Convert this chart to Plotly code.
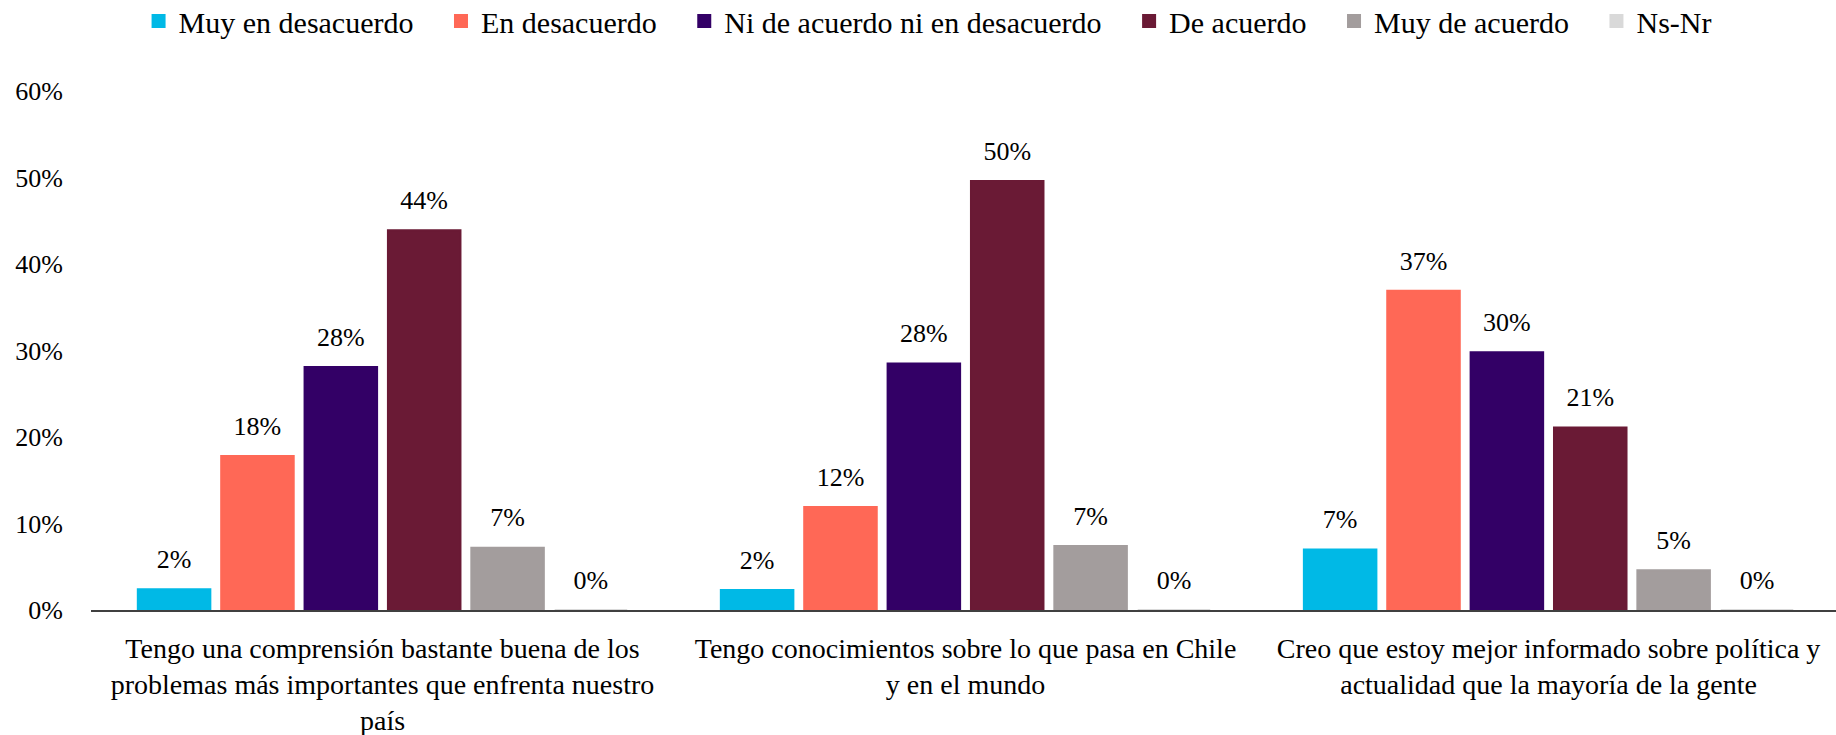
import plotly.graph_objects as go

# Categories (x axis) and answer options (series)
categories = [
    "Tengo una comprensión bastante buena de los<br>problemas más importantes que enfrenta nuestro<br>país",
    "Tengo conocimientos sobre lo que pasa en Chile<br>y en el mundo",
    "Creo que estoy mejor informado sobre política y<br>actualidad que la mayoría de la gente",
]
series_names = ["Muy en desacuerdo", "En desacuerdo", "Ni de acuerdo ni en desacuerdo",
                "De acuerdo", "Muy de acuerdo", "Ns-Nr"]
series_colors = ["#00B9E6", "#FF6856", "#330066", "#6A1A35", "#A39D9D", "#D9D9D9"]

# Values (share of respondents), one list per answer option
muy_en_desacuerdo = [0.024, 0.023, 0.070]
en_desacuerdo = [0.178, 0.119, 0.369]
ni_ni = [0.281, 0.285, 0.298]
de_acuerdo = [0.439, 0.496, 0.211]
muy_de_acuerdo = [0.072, 0.074, 0.046]
ns_nr = [0.0, 0.0, 0.0]

series_values = [muy_en_desacuerdo, en_desacuerdo, ni_ni, de_acuerdo, muy_de_acuerdo, ns_nr]

y_ticks = [0, 0.1, 0.2, 0.3, 0.4, 0.5, 0.6]

font_family = "Liberation Serif"
num_size = 26     # tick labels and value labels
cat_size = 28     # category labels
leg_size = 30     # legend
pad = "\u00a0\u00a0\u00a0"  # extra room between legend entries
gap = 0.142

fig = go.Figure()

for i, (name, color, vals) in enumerate(zip(series_names, series_colors, series_values)):
    fig.add_trace(go.Bar(
        x=categories, y=vals, name=name + pad,
        marker=dict(color=color, line=dict(color=color, width=2)),
        offsetgroup=str(i),
    ))

# value labels: invisible markers push the text a bit above each bar
for i, vals in enumerate(series_values):
    fig.add_trace(go.Scatter(
        x=categories, y=vals, mode="markers+text",
        marker=dict(size=22, opacity=0),
        text=[f"{v:.0%}" for v in vals],
        textposition="top center",
        textfont=dict(family=font_family, size=num_size, color="black"),
        offsetgroup=str(i), showlegend=False, hoverinfo="skip",
        cliponaxis=False,
    ))

fig.update_layout(
    width=1836, height=735,
    paper_bgcolor="white", plot_bgcolor="white",
    barmode="group", bargap=gap, bargroupgap=0.13,
    scattermode="group", scattergap=gap,
    font=dict(family=font_family, size=num_size, color="black"),
    margin=dict(l=91, r=0, t=91, b=125, autoexpand=False),
    legend=dict(
        orientation="h", x=0.486, xanchor="center", y=1.135, yanchor="middle",
        font=dict(family=font_family, size=leg_size, color="black"),
        itemwidth=30,
    ),
    xaxis=dict(
        range=[-0.5, 2.493],
        showline=True, linecolor="#404040", linewidth=2, automargin=False,
        showgrid=False, ticks="", ticklabelstandoff=12,
        tickfont=dict(family=font_family, size=cat_size, color="black"),
    ),
    yaxis=dict(
        range=[0, 0.6], tickvals=y_ticks, tickformat=".0%", automargin=False,
        showgrid=False, zeroline=False, showline=False, ticks="",
        ticklabelstandoff=27,
        tickfont=dict(family=font_family, size=num_size, color="black"),
    ),
)

# drop the default 8px body margin so the figure fills the window
fig.write_html("out.html", config={"displayModeBar": False},
               post_script="document.body.style.margin='0';")
